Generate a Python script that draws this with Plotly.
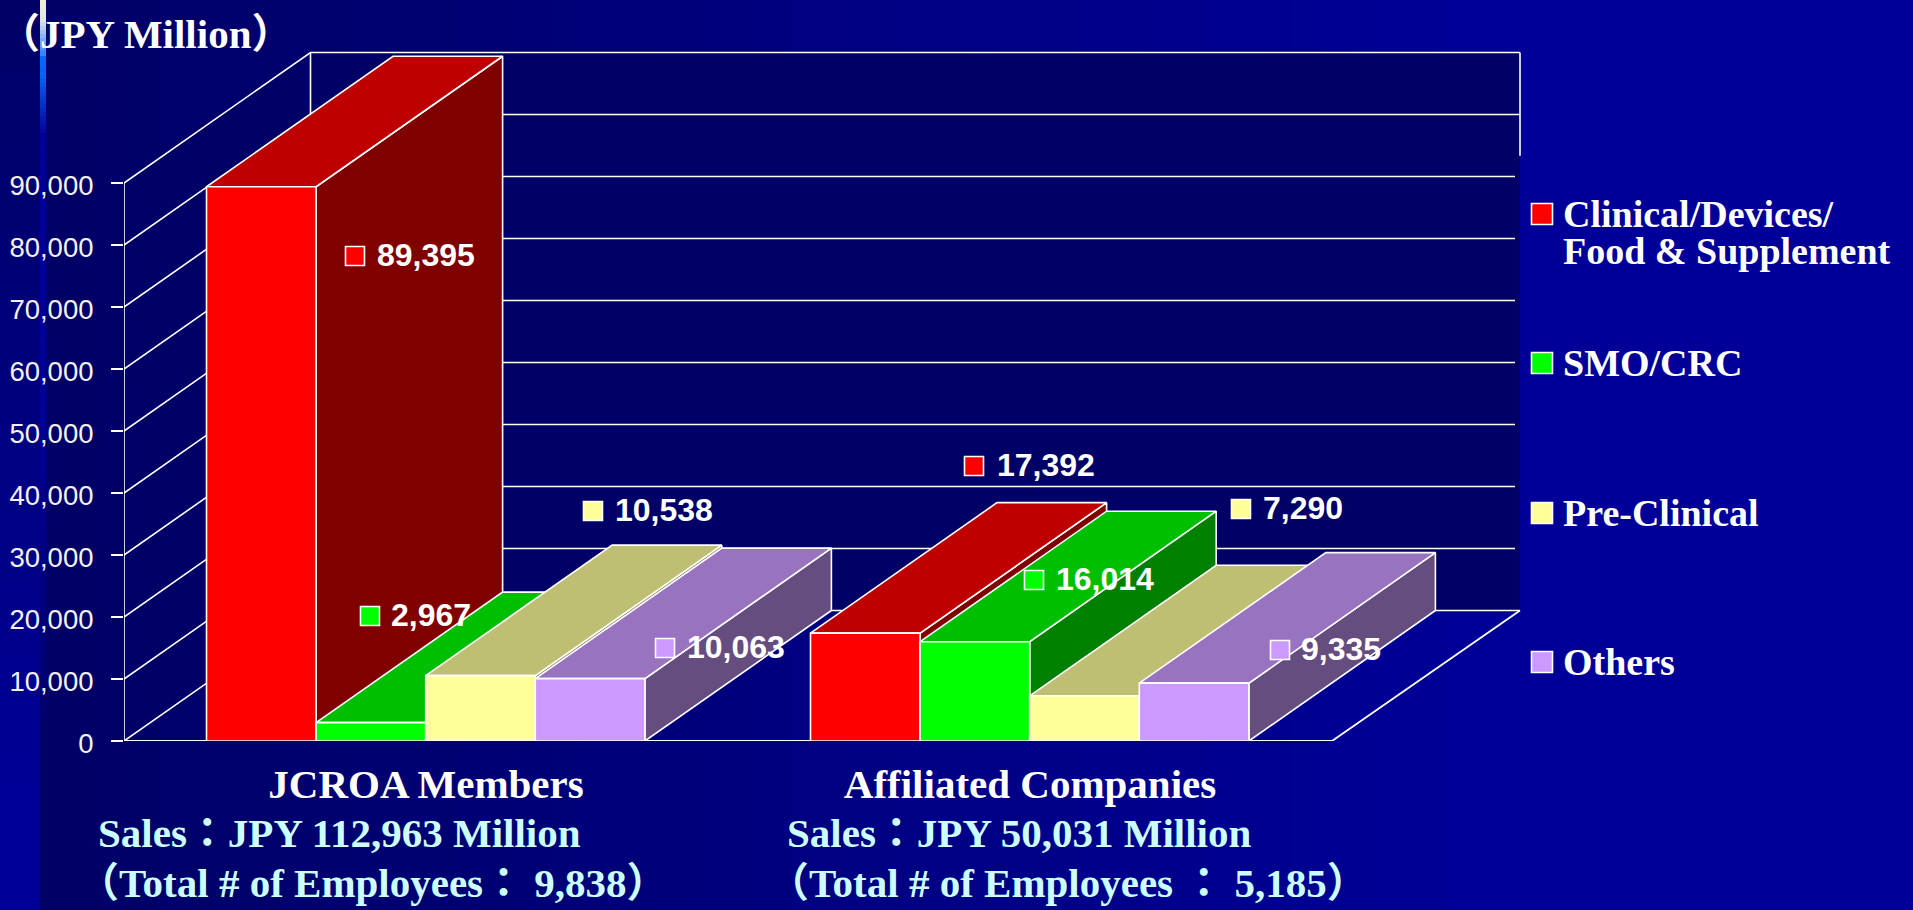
import plotly.graph_objects as go

# ---------- data ----------
categories = ["JCROA Members", "Affiliated Companies"]
series_names = ["Clinical/Devices/ Food & Supplement", "SMO/CRC", "Pre-Clinical", "Others"]
clinical = [89395, 17392]
smo = [2967, 16014]
preclinical = [10538, 7290]
others = [10063, 9335]
y_ticks = [0, 10000, 20000, 30000, 40000, 50000, 60000, 70000, 80000, 90000]

# ---------- styles / geometry ----------
W, H = 1913, 910
L, B = 124, 169
PX_CAT = 604.0          # px per category
PX_VAL = 558 / 90000    # px per value unit
DX = 186.5 / PX_CAT     # depth in category units
DY = 130.5 / PX_VAL     # depth in value units
BAR_W = 109.6 / PX_CAT
GROUP_START = 82.5 / PX_CAT
front = ["#FF0000", "#00FF00", "#FFFF99", "#CC99FF"]
top = ["#BF0000", "#00BF00", "#BFBF73", "#9973BF"]
side = ["#800000", "#008000", "#808050", "#664D80"]
EDGE = "#FFFFFF"
WALL = "#000066"
LW = 1.6
SERIF = "Liberation Serif, Noto Sans CJK JP"
series = [clinical, smo, preclinical, others]

# pixel helpers for page furniture only
px_u = lambda px: (px - L) / PX_CAT
py_v = lambda py: ((H - B) - py) / PX_VAL
paper_x = lambda px: (px - L) / (W - L)
paper_y = lambda py: ((H - B) - py) / (H - B)


def hexmix(a, b, t):
    a = [int(a[i:i + 2], 16) for i in (1, 3, 5)]
    b = [int(b[i:i + 2], 16) for i in (1, 3, 5)]
    return "#%02X%02X%02X" % tuple(round(p + (q - p) * t) for p, q in zip(a, b))


fig = go.Figure()


def poly(xs, ys, fill=None, lw=LW, color=EDGE):
    fig.add_trace(go.Scatter(
        x=xs, y=ys, mode="lines", line=dict(color=color, width=lw),
        fill="toself" if fill else "none", fillcolor=fill,
        hoverinfo="skip", showlegend=False))


top_v = y_ticks[-1]
# back wall and side wall fills
poly([DX, px_u(1520), px_u(1520), DX, DX], [DY, DY, top_v + DY, top_v + DY, DY], fill=WALL, lw=0, color=WALL)
poly([0, DX, DX, 0, 0], [0, DY, top_v + DY, top_v, 0], fill=WALL, lw=0, color=WALL)
# gridlines
for v in y_ticks:
    end = px_u(1520) if v >= 80000 or v == 0 else px_u(1515)
    poly([0, DX, end], [v, v + DY, v + DY])
poly([0, 0], [0, top_v])
poly([DX, DX], [DY, top_v + DY])
poly([px_u(1520), px_u(1520)], [top_v + DY, py_v(155.7)])
# floor
poly([0, 2, px_u(1520)], [0, 0, DY], lw=1.8)

# bars (painter's order, left to right)
for c in range(len(categories)):
    for s, vals in enumerate(series):
        v = vals[c]
        x0 = c + GROUP_START + s * BAR_W
        x1 = x0 + BAR_W
        poly([x1, x1 + DX, x1 + DX, x1, x1], [0, DY, v + DY, v, 0], fill=side[s])
        poly([x0, x1, x1 + DX, x0 + DX, x0], [v, v, v + DY, v + DY, v], fill=top[s])
        poly([x0, x1, x1, x0, x0], [0, 0, v, v, 0], fill=front[s])

annotations = []


def ann(px, py, text, size, color="#FFFFFF", anchor="left", family=SERIF, bold=True):
    annotations.append(dict(
        x=paper_x(px), y=paper_y(py), xref="paper", yref="paper", text=f"<b>{text}</b>" if bold else text,
        showarrow=False, xanchor=anchor, yanchor="middle",
        font=dict(size=size, color=color, family=family)))


# data labels with swatches (pixel anchors of each label: swatch centre, text start)
label_pos = [
    [((355, 256), 375), ((974, 466), 995)],
    [((370, 616), 389), ((1034, 580), 1054)],
    [((593, 511), 613), ((1241, 509), 1261)],
    [((665, 648), 685), ((1280, 650), 1299)],
]
for s, vals in enumerate(series):
    for c, v in enumerate(vals):
        (sx, sy), tx = label_pos[s][c]
        fig.add_trace(go.Scatter(
            x=[px_u(sx)], y=[py_v(sy)], mode="markers",
            marker=dict(symbol="square", size=19, color=front[s], line=dict(color=EDGE, width=1.6)),
            hoverinfo="skip", showlegend=False))
        ann(tx, sy - 1, f"{v:,}", 32, family="Liberation Sans")

# legend
legend_y = [214, 363, 513, 662]
legend_text = [["Clinical/Devices/", "Food & Supplement"], ["SMO/CRC"], ["Pre-Clinical"], ["Others"]]
for s, ly in enumerate(legend_y):
    fig.add_trace(go.Scatter(
        x=[px_u(1542)], y=[py_v(ly)], mode="markers",
        marker=dict(symbol="square", size=21, color=front[s], line=dict(color=EDGE, width=1.6)),
        hoverinfo="skip", showlegend=False))
    for i, t in enumerate(legend_text[s]):
        ann(1561, ly + i * 37, t.replace("&", "&amp;"), 38)

# texts
ann(145, 34, "（JPY Million）", 41, anchor="center")
CYAN = "#CCFFFF"
ann(96, 833, "Sales：JPY 112,963 Million", 41, CYAN)
ann(785, 833, "Sales：JPY 50,031 Million", 41, CYAN)
ann(76, 883, "（Total # of Employees： 9,838）", 41, CYAN)
ann(766, 883, "（Total # of Employees ： 5,185）", 41, CYAN)

# background gradient
shapes = []


def rect(x0, y0, x1, y1, color):
    shapes.append(dict(type="rect", xref="paper", yref="paper", layer="below",
                       x0=paper_x(x0), x1=paper_x(x1), y0=paper_y(y0), y1=paper_y(y1),
                       fillcolor=color, line=dict(width=0)))


STEPS = 51
for i in range(STEPS):
    xa = 40 + (1560 - 40) * i / STEPS
    xb = 40 + (1560 - 40) * (i + 1) / STEPS if i < STEPS - 1 else W
    rect(xa, 0, xb + 1, H, hexmix("#000066", "#000099", i / (STEPS - 1)))
    ya = 850 * i / STEPS
    yb = 850 * (i + 1) / STEPS if i < STEPS - 1 else H
    rect(0, ya, 40, yb + 1, hexmix("#000066", "#000099", i / (STEPS - 1)))

stripe_stops = [(0, "#EEEEDD"), (18, "#DDE6EE"), (50, "#3A86FF"), (56, "#0A66FF"), (75, "#0A60F0"),
                (133, "#000099"), (400, "#000099"), (720, "#00006E")]
for (y0, c0), (y1, c1) in zip(stripe_stops, stripe_stops[1:]):
    n = max(1, (y1 - y0) // 4)
    for i in range(n):
        rect(40, y0 + (y1 - y0) * i / n, 46, y0 + (y1 - y0) * (i + 1) / n + 0.5, hexmix(c0, c1, i / n))

fig.update_layout(
    width=W, height=H, margin=dict(l=L, r=0, t=0, b=B, pad=0),
    paper_bgcolor="#000066", plot_bgcolor="rgba(0,0,0,0)", showlegend=False,
    shapes=shapes, annotations=annotations,
    xaxis=dict(range=[0, (W - L) / PX_CAT], tickmode="array", tickvals=[0.5, 1.5], ticktext=[f"<b>{c}</b>" for c in categories],
               ticklen=0, showgrid=False, zeroline=False, showline=False, ticklabelstandoff=15,
               tickfont=dict(family=SERIF, size=41, color="#FFFFFF")),
    yaxis=dict(range=[0, (H - B) / PX_VAL], tickmode="array", tickvals=y_ticks, ticktext=[f"{v:,}" for v in y_ticks],
               ticks="outside", ticklen=12, tickwidth=1.6, tickcolor=EDGE, showgrid=False, zeroline=False, showline=False,
               ticklabelstandoff=12, ticklabelshift=2, tickfont=dict(family="Liberation Sans", size=27.5, color="#F2F2F2")),
)

fig.write_html("out.html", config={"displayModeBar": False},
               post_script="document.body.style.margin='0';document.documentElement.style.overflow='hidden';")
